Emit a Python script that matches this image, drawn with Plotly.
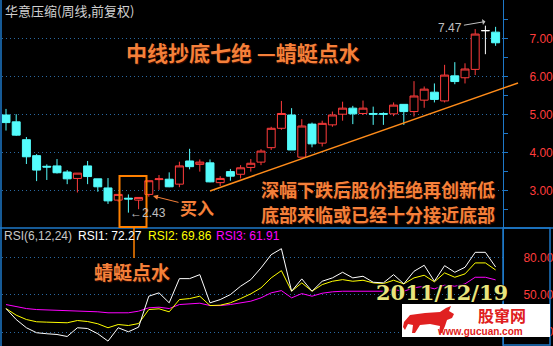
import plotly.graph_objects as go

W, H = 553, 346

# ---------------- data ----------------
weeks = list(range(49))
opens = [5.00, 4.82, 4.35, 3.93, 3.65, 3.66, 3.50, 3.33, 3.66, 3.32,
         3.08, 2.76, 2.81, 2.76, 2.91, 3.30, 3.31, 3.18, 3.79, 3.70,
         3.74, 3.22, 3.51, 3.44, 3.62, 3.76, 4.14, 4.65, 5.00, 3.89,
         4.76, 4.26, 4.74, 5.02, 5.18, 5.04, 5.04, 5.04, 5.03, 5.28,
         5.09, 5.39, 5.60, 5.37, 6.03, 5.98, 6.20, 7.22, 7.18]
highs = [5.16, 5.02, 4.42, 3.97, 3.70, 3.84, 3.55, 3.47, 3.79, 3.32,
         3.34, 2.91, 2.91, 2.83, 3.27, 3.42, 3.49, 3.77, 4.11, 3.83,
         3.83, 3.39, 3.58, 3.68, 3.84, 4.10, 4.69, 5.37, 5.18, 4.89,
         4.80, 4.85, 5.09, 5.35, 5.24, 5.38, 5.22, 5.07, 5.33, 5.28,
         5.89, 5.75, 5.83, 6.32, 6.39, 6.36, 7.26, 7.35, 7.32]
lows = [4.59, 4.45, 3.71, 3.26, 3.29, 3.46, 3.18, 2.96, 3.18, 2.98,
        2.66, 2.72, 2.43, 2.52, 2.85, 3.03, 3.10, 3.10, 3.57, 3.51,
        3.23, 3.13, 3.27, 3.33, 3.51, 3.68, 4.08, 4.61, 4.08, 3.89,
        4.15, 4.17, 4.69, 4.85, 4.76, 5.00, 4.74, 4.74, 4.97, 4.74,
        4.96, 5.19, 5.33, 5.33, 5.81, 5.83, 6.05, 6.60, 6.82]
closes = [4.80, 4.47, 3.90, 3.55, 3.63, 3.48, 3.32, 3.47, 3.38, 3.11,
          2.74, 2.91, 2.79, 2.83, 3.27, 3.32, 3.11, 3.66, 3.64, 3.76,
          3.24, 3.33, 3.39, 3.61, 3.73, 4.05, 4.65, 5.04, 4.08, 4.71,
          4.24, 4.78, 5.00, 5.18, 5.03, 5.18, 5.02, 5.02, 5.26, 5.09,
          5.50, 5.68, 5.41, 6.05, 5.88, 6.21, 7.13, 7.22, 6.90]
white_doji = [47]

rsi1 = [38.9, 30.1, 23.5, 19.5, 18.7, 18.1, 16.5, 23.5, 22.9, 18.7,
        12.8, 23.5, 20.3, 24.0, 48.8, 51.5, 43.5, 62.9, 62.9, 66.1,
        43.5, 46.1, 50.1, 56.8, 62.1, 71.5, 82.1, 86.9, 52.8, 62.7,
        52.8, 60.8, 63.5, 68.0, 63.5, 64.8, 60.0, 59.5, 66.1, 58.7,
        68.8, 73.6, 60.8, 73.3, 68.0, 72.0, 84.0, 84.0, 72.27]
rsi2 = [38.9, 33.6, 30.1, 28.3, 28.0, 28.0, 27.5, 29.3, 28.5, 26.7,
        23.5, 26.1, 25.3, 26.9, 38.1, 38.7, 36.3, 46.1, 46.9, 48.8,
        41.3, 41.6, 43.5, 46.9, 50.7, 55.5, 63.5, 69.3, 52.8, 59.5,
        52.8, 58.1, 60.8, 62.1, 60.8, 61.6, 59.5, 58.9, 61.6, 58.7,
        63.5, 65.6, 60.3, 67.5, 64.0, 66.7, 75.5, 75.5, 69.86]
rsi3 = [42.1, 40.5, 38.9, 38.1, 37.9, 37.3, 37.1, 36.8, 36.5, 36.3,
        35.5, 35.7, 35.5, 36.8, 39.5, 40.0, 38.9, 42.1, 42.7, 43.2,
        41.3, 41.3, 42.1, 43.5, 44.8, 47.5, 51.5, 53.3, 47.5, 50.9,
        48.8, 51.2, 52.3, 52.8, 52.8, 53.3, 52.8, 52.8, 54.1, 52.8,
        55.5, 56.8, 54.7, 57.6, 56.8, 58.7, 64.0, 64.0, 61.91]

price_ticks = [3, 4, 5, 6, 7]
price_minor = [2.5, 3.5, 4.5, 5.5, 6.5, 7.5]
rsi_ticks = [20, 50, 80]
high_label = "7.47"
low_label = "2.43"
low_week = 12

# ---------------- styling helpers ----------------
BLUE = "#1e78c8"
GRID = "#2a68a0"
RED = "#ff3c3c"
CYAN = "#54fcfc"
ORANGE = "#f5803a"
CJK = "Noto Sans CJK SC"
LAT = "Liberation Sans"


def px(x, y):
    return x / W, 1 - y / H


main_idx = [i for i in weeks if i not in white_doji]

fig = go.Figure()
fig.add_trace(go.Candlestick(
    x=main_idx,
    open=[opens[i] for i in main_idx], high=[highs[i] for i in main_idx],
    low=[lows[i] for i in main_idx], close=[closes[i] for i in main_idx],
    increasing=dict(line=dict(color=RED, width=1), fillcolor="black"),
    decreasing=dict(line=dict(color=CYAN, width=1), fillcolor=CYAN),
    xaxis="x", yaxis="y", showlegend=False, hoverinfo="skip"))
fig.add_trace(go.Candlestick(
    x=white_doji,
    open=[opens[i] for i in white_doji], high=[highs[i] for i in white_doji],
    low=[lows[i] for i in white_doji], close=[closes[i] for i in white_doji],
    increasing=dict(line=dict(color="white", width=1), fillcolor="white"),
    decreasing=dict(line=dict(color="white", width=1), fillcolor="white"),
    xaxis="x", yaxis="y", showlegend=False, hoverinfo="skip"))

for vals, col in [(rsi3, "#ff00ff"), (rsi2, "#ffff00"), (rsi1, "#ffffff")]:
    fig.add_trace(go.Scatter(x=weeks, y=vals, mode="lines",
                             line=dict(color=col, width=1),
                             xaxis="x2", yaxis="y2", showlegend=False,
                             hoverinfo="skip"))

split = 228 / H
xdom = [2 / W, 503 / W]
xr = [(2 - 6) / 10.2, (503 - 6) / 10.2]

fig.update_layout(
    width=W, height=H, margin=dict(l=0, r=0, t=0, b=0), autosize=False,
    paper_bgcolor="black", plot_bgcolor="black", showlegend=False,
    boxgap=0.22, boxgroupgap=0,
    xaxis=dict(domain=xdom, range=xr, anchor="y", showgrid=False,
               zeroline=False, showticklabels=False, rangeslider=dict(visible=False),
               showline=False, ticks=""),
    xaxis2=dict(domain=xdom, range=xr, anchor="y2", showgrid=False,
                zeroline=False, showticklabels=False, showline=False, ticks="",
                matches="x"),
    yaxis=dict(domain=[1 - split, 1], range=[2.026, 8.026], anchor="x",
               side="right", tickvals=price_ticks,
               ticktext=[f"{v:.2f}" for v in price_ticks],
               tickfont=dict(color=RED, size=12, family=LAT),
               ticks="outside", ticklen=4, tickcolor=BLUE,
               ticklabelstandoff=19,
               minor=dict(tickvals=price_minor, ticks="outside", ticklen=4,
                          tickcolor=BLUE, showgrid=False),
               showgrid=True, gridcolor=GRID, griddash="1px,3px", gridwidth=1,
               zeroline=False, showline=True, linecolor=BLUE, linewidth=1),
    yaxis2=dict(domain=[0, 1 - split], range=[8.87, 103.5], anchor="x2",
                side="right", tickvals=rsi_ticks,
                ticktext=[f"{v:.2f}" for v in rsi_ticks],
                tickfont=dict(color=RED, size=12, family=LAT),
                ticks="", ticklabelstandoff=17,
                showgrid=True, gridcolor=GRID, griddash="1px,3px", gridwidth=1,
                zeroline=False, showline=True, linecolor=BLUE, linewidth=1),
)

shapes = []
# panel separator and left border
x0, y0 = px(0, 228); x1, _ = px(553, 228)
shapes.append(dict(type="line", xref="paper", yref="paper", x0=x0, y0=y0, x1=x1, y1=y0,
                   line=dict(color=BLUE, width=1.5)))
shapes.append(dict(type="line", xref="paper", yref="paper", x0=1 / W, y0=0, x1=1 / W, y1=1,
                   line=dict(color=BLUE, width=1.5)))
# RSI axis box
a, b = px(503, 228); c, d = px(550, 345)
shapes.append(dict(type="rect", xref="paper", yref="paper", x0=a, y0=d, x1=c, y1=b,
                   line=dict(color=BLUE, width=1.5)))
# orange trend line
a, b = px(210, 191); c, d = px(518, 83)
shapes.append(dict(type="line", xref="paper", yref="paper", x0=a, y0=b, x1=c, y1=d,
                   line=dict(color="#ff8c1a", width=1.5)))
# orange highlight box and connector
a, b = px(119.5, 176); c, d = px(146.5, 227)
shapes.append(dict(type="rect", xref="paper", yref="paper", x0=a, y0=d, x1=c, y1=b,
                   line=dict(color="#ff8000", width=2)))
a, b = px(134, 228); c, d = px(134, 258)
shapes.append(dict(type="line", xref="paper", yref="paper", x0=a, y0=b, x1=c, y1=d,
                   line=dict(color="#ff8000", width=1.5)))
# watermark white box
a, b = px(402, 304); c, d = px(550, 337)
shapes.append(dict(type="rect", xref="paper", yref="paper", x0=a, y0=d, x1=c, y1=b,
                   fillcolor="white", line=dict(width=0), layer="above"))
# bull logo
bull = [(404, 322), (410, 315), (425, 313), (440, 312), (446, 308), (451, 306),
        (449, 311), (454, 314), (452, 318), (447, 320), (445, 326), (442, 333),
        (439, 333), (440, 326), (430, 324), (420, 325), (415, 333), (412, 333),
        (413, 325), (408, 324), (405, 330), (403, 327)]
path = "M " + " L ".join(f"{px(x, y)[0]:.5f},{px(x, y)[1]:.5f}" for x, y in bull) + " Z"
shapes.append(dict(type="path", xref="paper", yref="paper", path=path,
                   fillcolor="#e02020", line=dict(width=0), layer="above"))
fig.update_layout(shapes=shapes)

ann = []


def text(x, y, s, size, color, family=CJK, bold=False, xanchor="center", shadow=None):
    X, Y = px(x, y)
    f = dict(size=size, color=color, family=family)
    if bold:
        f["weight"] = "bold"
    if shadow:
        f["shadow"] = shadow
    ann.append(dict(x=X, y=Y, xref="paper", yref="paper", text=s, showarrow=False,
                    font=f, xanchor=xanchor, yanchor="middle"))


text(3, 10, "华意压缩(周线,前复权)", 13, "#d0d0d0", xanchor="left")
text(243, 52, "中线抄底七绝 —蜻蜓点水", 21, ORANGE, bold=True, shadow="1px 1px 1px #401000")
text(378, 189, "深幅下跌后股价拒绝再创新低", 18, ORANGE, bold=True, shadow="1px 1px 1px #401000")
text(378, 214, "底部来临或已经十分接近底部", 18, ORANGE, bold=True, shadow="1px 1px 1px #401000")
text(132, 271, "蜻蜓点水", 19, ORANGE, bold=True, shadow="1px 1px 1px #401000")
text(2, 236, "RSI(6,12,24)", 12, "#c8c8c8", family=LAT, xanchor="left")
text(76, 236, f"RSI1: {rsi1[-1]:.2f}", 12, "#ffffff", family=LAT, xanchor="left")
text(146, 236, f"RSI2: {rsi2[-1]:.2f}", 12, "#ffff00", family=LAT, xanchor="left")
text(214, 236, f"RSI3: {rsi3[-1]:.2f}", 12, "#ff00ff", family=LAT, xanchor="left")
text(442, 292, "2011/12/19", 21, "#e8e47c", family="DejaVu Serif", bold=True,
     shadow="1px 1px 1px #000, -1px -1px 1px #000")
text(502, 315, "股窜网", 16, "#e02020", bold=True)
text(480, 331, "www.gucuan.com", 10, "#e02020", family=LAT, bold=True)

# buy arrow
ann.append(dict(x=px(153, 196)[0], y=px(153, 196)[1], xref="paper", yref="paper",
                text="买入", showarrow=True, ax=44, ay=11, arrowhead=2, arrowsize=1,
                arrowwidth=1, arrowcolor=ORANGE,
                font=dict(size=17, color=ORANGE, family=CJK, weight="bold")))
# high label with arrow
ann.append(dict(x=47, y=7.46, xref="x", yref="y", text=high_label, showarrow=True,
                ax=-35, ay=6, arrowhead=1, arrowwidth=1, arrowcolor="#c0c0c0",
                font=dict(size=12, color="#c0c0c0", family=LAT)))
# low label
ann.append(dict(x=low_week, y=2.43, xref="x", yref="y", text="←" + low_label,
                showarrow=False, xanchor="left", yanchor="middle",
                font=dict(size=12, color="#c0c0c0", family=LAT)))
fig.update_layout(annotations=ann)

fig.write_html("out.html")
